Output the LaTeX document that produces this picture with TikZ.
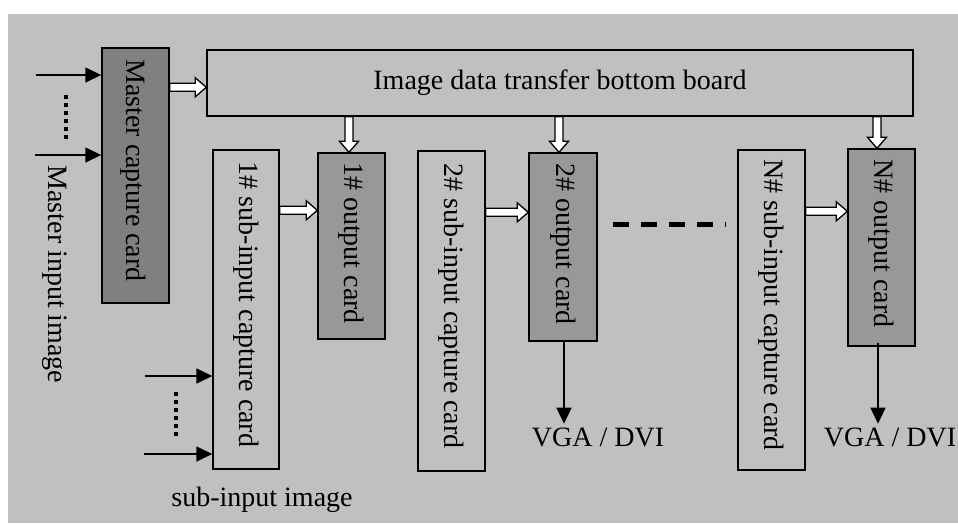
\documentclass[tikz,border=0pt]{standalone}
\usepackage{fontspec}
\setmainfont{Liberation Serif}
\usetikzlibrary{calc,arrows.meta}
\definecolor{bgc}{HTML}{C0C0C0}
\definecolor{masterc}{HTML}{808080}
\definecolor{outc}{HTML}{989898}
\newcommand{\hollowR}[2]{%
  \draw[hollow] let \p1=(#1), \p2=(#2) in
    (\x1,\y1+4pt) -- (\x2-11pt,\y1+4pt) -- (\x2-11pt,\y1+9.5pt) -- (\x2,\y1)
    -- (\x2-11pt,\y1-9.5pt) -- (\x2-11pt,\y1-4pt) -- (\x1,\y1-4pt) -- cycle;}
\newcommand{\hollowD}[2]{%
  \draw[hollow] let \p1=(#1), \p2=(#2) in
    (\x1-4pt,\y1) -- (\x1-4pt,\y2+11pt) -- (\x1-9.5pt,\y2+11pt) -- (\x1,\y2)
    -- (\x1+9.5pt,\y2+11pt) -- (\x1+4pt,\y2+11pt) -- (\x1+4pt,\y1) -- cycle;}
\begin{document}
\begin{tikzpicture}[x=1pt,y=-1pt,
  txt/.style={font=\fontsize{28}{33}\selectfont, inner sep=0pt},
  vtxt/.style={txt, rotate=-90},
  box/.style={draw, line width=1.4pt, inner sep=0pt},
  masterbox/.style={box, fill=masterc},
  outbox/.style={box, fill=outc},
  subbox/.style={box, fill=bgc},
  hollow/.style={draw, fill=white, line width=1.3pt, line join=miter},
  inarrow/.style={line width=1.5pt, -{Triangle[length=16pt,width=15pt]}},
  dotline/.style={line width=3.8pt, dash pattern=on 3.8pt off 4.2pt},
  dashline/.style={line width=4.5pt, dash pattern=on 16pt off 12pt}]
\useasboundingbox (0,0) rectangle (958,523);
\fill[bgc] (8,14) rectangle (958,523);

% boxes
\node[masterbox, minimum width=67pt, minimum height=255pt] (mc) at (135.5,175.5) {};
\node[subbox, minimum width=706pt, minimum height=66pt] (board) at (560,83) {};
\node[subbox, minimum width=66pt, minimum height=319pt] (s1) at (246,309.5) {};
\node[outbox, minimum width=67pt, minimum height=186pt] (o1) at (351.5,246) {};
\node[subbox, minimum width=67pt, minimum height=320pt] (s2) at (451.5,311) {};
\node[outbox, minimum width=68pt, minimum height=188pt] (o2) at (563,247) {};
\node[subbox, minimum width=67pt, minimum height=320pt] (sN) at (771.5,310) {};
\node[outbox, minimum width=67pt, minimum height=197pt] (oN) at (881.5,247.5) {};

% box texts
\node[vtxt] (tmc) at ($(mc)+(-2,-5)$) {Master capture card};
\node[txt] (tboard) at ($(board)+(0,0)$) {Image data transfer bottom board};
\node[vtxt] (ts1) at ($(s1)+(0,-5)$) {1\# sub-input capture card};
\node[vtxt] (to1) at ($(o1)+(0,-3)$) {1\# output card};
\node[vtxt] (ts2) at ($(s2)+(0,-5)$) {2\# sub-input capture card};
\node[vtxt] (to2) at ($(o2)+(0,-3)$) {2\# output card};
\node[vtxt] (tsN) at ($(sN)+(0,-5)$) {N\# sub-input capture card};
\node[vtxt] (toN) at ($(oN)+(0,-4)$) {N\# output card};

% free labels
\node[vtxt] (lmaster) at (55,274.5) {Master input image};
\node[txt] (lsub) at (262,500) {sub-input image};
\node[txt] (vga1) at (598,437) {VGA / DVI};
\node[txt] (vga2) at (890,437) {VGA / DVI};

% master inputs
\coordinate (mi1) at (36,75);
\coordinate (mi2) at (35,155);
\draw[inarrow] (mi1) -- (mi1 -| mc.west);
\draw[inarrow] (mi2) -- (mi2 -| mc.west);
\draw[dotline] (65.7,95) -- (65.7,138.5);

% sub inputs
\coordinate (si1) at (145,376);
\coordinate (si2) at (144,454);
\draw[inarrow] (si1) -- (si1 -| s1.west);
\draw[inarrow] (si2) -- (si2 -| s1.west);
\draw[dotline] (175.7,392) -- (175.7,435.5);

% hollow arrows
\coordinate (h1a) at ($(mc.north east)+(0,40)$);
\coordinate (h1b) at (board.west |- h1a);
\hollowR{h1a}{h1b}
\coordinate (h2a) at ($(s1.north east)+(0,61)$);
\coordinate (h2b) at (o1.west |- h2a);
\hollowR{h2a}{h2b}
\coordinate (h3a) at ($(s2.north east)+(0,62)$);
\coordinate (h3b) at (o2.west |- h3a);
\hollowR{h3a}{h3b}
\coordinate (h4a) at ($(sN.north east)+(0,62)$);
\coordinate (h4b) at (oN.west |- h4a);
\hollowR{h4a}{h4b}

\coordinate (v1b) at ($(o1.north)+(-2.5,0)$);
\coordinate (v1a) at (board.south -| v1b);
\hollowD{v1a}{v1b}
\coordinate (v2b) at ($(o2.north)+(-4,0)$);
\coordinate (v2a) at (board.south -| v2b);
\hollowD{v2a}{v2b}
\coordinate (v3b) at ($(oN.north)+(-4.5,0)$);
\coordinate (v3a) at (board.south -| v3b);
\hollowD{v3a}{v3b}

% dashed continuation
\coordinate (d1) at ($(o2.north east)+(15,72)$);
\coordinate (d2) at ($(sN.west |- d1)+(-12,0)$);
\draw[dashline] (d1) -- (d2);

% outputs
\coordinate (vo1) at ($(o2.south)+(1,0)$);
\coordinate (vt1) at ($(vo1)+(0,82)$);
\draw[inarrow] (vo1) -- (vt1);
\coordinate (vo2) at ($(oN.south)+(-3.5,-4)$);
\coordinate (vt2) at ($(vo2)+(0,81)$);
\draw[inarrow] (vo2) -- (vt2);
\end{tikzpicture}
\end{document}
